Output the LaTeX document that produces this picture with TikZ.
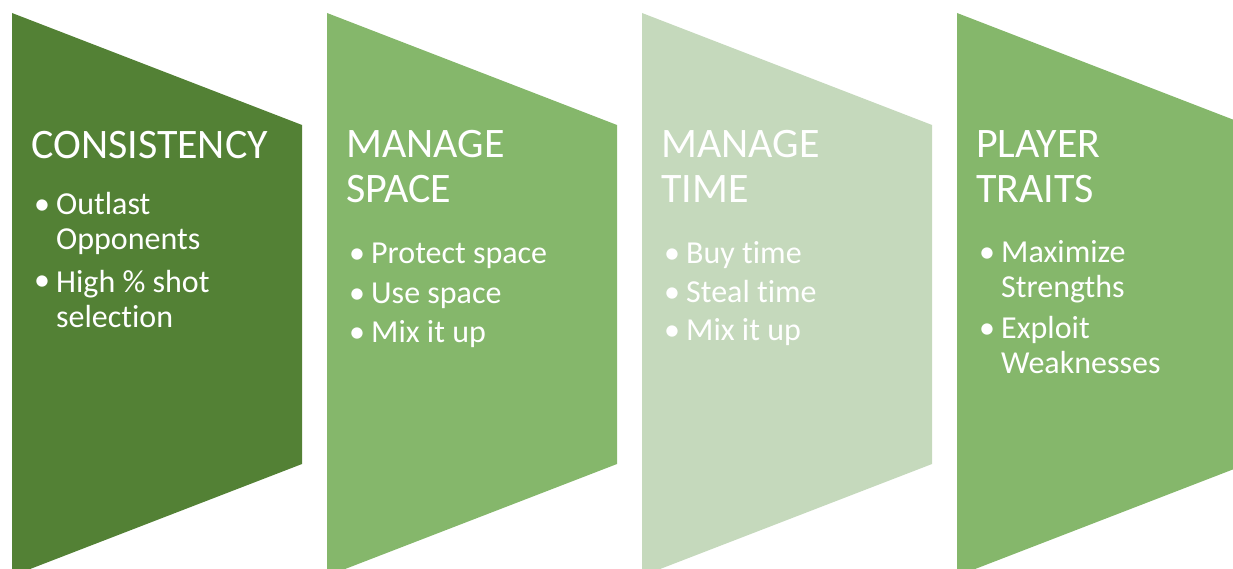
\documentclass[tikz,border=0pt]{standalone}
\usepackage{fontspec}
\setmainfont{Carlito}[Ligatures=NoCommon]
\definecolor{darkgreen}{HTML}{538135}
\definecolor{midgreen}{HTML}{85B76B}
\definecolor{palegreen}{HTML}{C5D9BC}
\begin{document}
\begin{tikzpicture}[x=1pt,y=-1pt,
    title/.style={anchor=base west,text=white,inner sep=0pt,align=left,
        font=\fontsize{42}{45}\selectfont},
    dot/.style={anchor=base west,text=white,inner sep=0pt,
        font=\fontsize{32}{35}\selectfont},
    item/.style={anchor=base west,text=white,inner sep=0pt,align=left,
        font=\fontsize{32}{35}\selectfont}]
    \useasboundingbox (0,0) rectangle (1233,569);
    %% chevron panels
    \foreach \i/\c in {0/darkgreen,1/midgreen,2/palegreen,3/midgreen}
        \fill[\c] (12+315*\i,13) -- ++(290,112) -- ++(0,339) -- ++(-290,112) -- cycle;
    %% panel 1 (multi-line nodes sit on their last baseline)
    \node[title] (cons) at (31,159) {CONSISTENCY};
    \node[dot] (d1a) at (34,215) {•};
    \node[item] (outlast) at (56,250) {Outlast\\Opponents};
    \node[dot] (d1b) at (34,290) {•};
    \node[item] (high) at (56,327) {High \% shot\\selection};
    %% panel 2
    \node[title] (space) at (346,203) {MANAGE\\SPACE};
    \node[dot] (d2a) at (349,263) {•};
    \node[item] (protect) at (371,263) {Protect space};
    \node[dot] (d2b) at (349,303) {•};
    \node[item] (use) at (371,303) {Use space};
    \node[dot] (d2c) at (349,342) {•};
    \node[item] (mixa) at (371,342) {Mix it up};
    %% panel 3
    \node[title] (time) at (661,203) {MANAGE\\TIME};
    \node[dot] (d3a) at (664,263) {•};
    \node[item] (buy) at (686,263) {Buy time};
    \node[dot] (d3b) at (664,302) {•};
    \node[item] (steal) at (686,302) {Steal time};
    \node[dot] (d3c) at (664,340) {•};
    \node[item] (mixb) at (686,340) {Mix it up};
    %% panel 4
    \node[title] (traits) at (976,203) {PLAYER\\TRAITS};
    \node[dot] (d4a) at (979,262) {•};
    \node[item] (maxi) at (1001,297) {Maximize\\Strengths};
    \node[dot] (d4b) at (979,338) {•};
    \node[item] (exploit) at (1001,373) {Exploit\\Weaknesses};
\end{tikzpicture}
\end{document}
